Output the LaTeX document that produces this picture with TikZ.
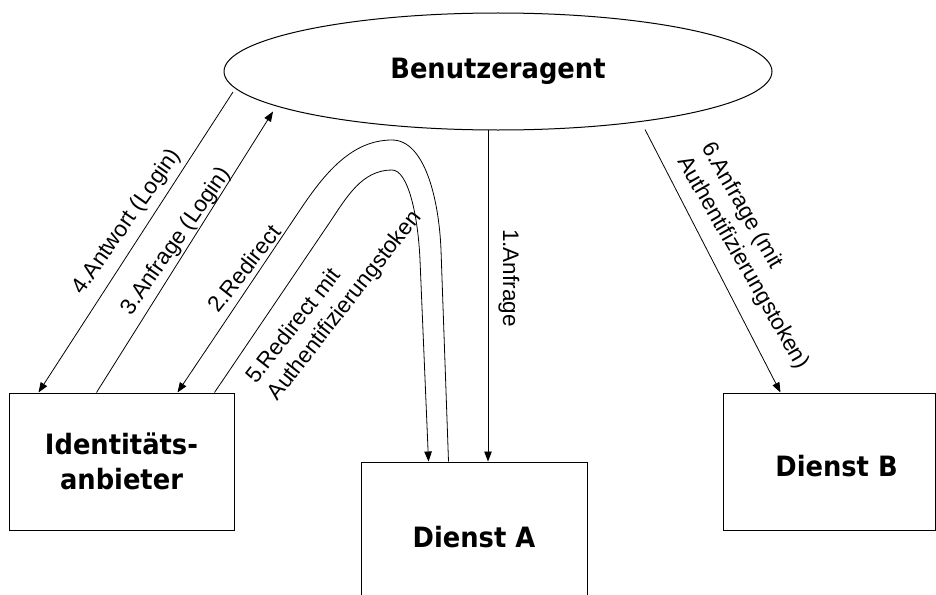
\documentclass[tikz,border=0pt]{standalone}
\usepackage{fontspec}
\setmainfont{Liberation Sans}
\newfontfamily\titlefont{DejaVu Sans}[FakeStretch=0.92]
\usetikzlibrary{shapes.geometric,calc,arrows.meta}
\begin{document}
\begin{tikzpicture}[x=1pt,y=-1pt,
  title/.style={inner sep=0pt, align=center,
    font=\titlefont\bfseries\fontsize{28}{35}\selectfont},
  entity/.style={title, draw=black, line width=1pt},
  box/.style={entity, rectangle},
  link/.style={line width=0.8pt},
  msg/.style={link, -{Triangle[length=10pt,width=7.5pt]}},
  lbl/.style={inner sep=0pt, align=left, font=\fontsize{22.5}{27.5}\selectfont}
]
\useasboundingbox (0,0) rectangle (936,594);
\clip (0,0) rectangle (936,594);

% participants
\node[entity, ellipse, minimum width=548pt, minimum height=117pt] (ua) at (498,71.5) {Benutzeragent};
\node[box, minimum width=225pt, minimum height=137pt] (idp) at (121.5,461.5) {Identitäts-\\anbieter};
\node[box, minimum width=226pt, minimum height=150pt] (da) at (474,537) {Dienst A};
\node[box, minimum width=212pt, minimum height=137pt] (db) at (829,461.5) {};
\node[title] (dbt) at ($(db.center)+(7.5,5)$) {Dienst B};

% 1. request to service A
\coordinate (u1) at ($(ua.center)+(-10,58.5)$);
\draw[msg] (u1) -- (u1 |- da.north);

% 2. redirect from service A to the identity provider
\draw[msg] ($(da.north west)+(88,0)$) -- (441,250)
  .. controls (439,200) and (425,140) .. (392,140)
  .. controls (352,140) and (325,172.6) .. (300,210)
  -- ($(idp.north west)+(169,0)$);

% 3. login request
\draw[msg] ($(idp.north west)+(88,0)$) -- ($(ua.center)+(-225,40)$);

% 4. login response
\draw[msg] ($(ua.center)+(-265,20.5)$) -- ($(idp.north west)+(30,0)$);

% 5. redirect with token back to service A
\draw[msg] ($(idp.north west)+(206,0)$) -- (330,222)
  .. controls (346.7,197) and (362,170) .. (392,170)
  .. controls (408,170) and (418,215) .. (420,260)
  -- ($(da.north west)+(68,0)$);

% 6. request to service B with token
\draw[msg] ($(ua.center)+(147,58)$) -- ($(db.north west)+(58,0)$);

% message labels
\node[lbl, rotate=-90] (l1) at (509,278) {1.Anfrage};
\node[lbl, rotate=52] (l2) at (244,268.5) {2.Redirect};
\node[lbl, rotate=55] (l3) at (176.5,241.5) {3.Anfrage (Login)};
\node[lbl, rotate=55] (l4) at (127,222) {4.Antwort (Login)};
\node[lbl, rotate=52] (l5) at (334.5,297.6) {5.Redirect mit\\Authentifizierungstoken};
\node[lbl, rotate=-60] (l6) at (754.5,256) {6.Anfrage (mit\\Authentifizierungstoken)};
\end{tikzpicture}
\end{document}
